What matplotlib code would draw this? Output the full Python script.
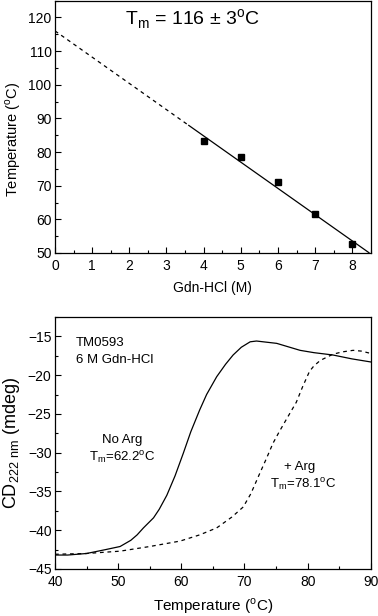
import matplotlib.pyplot as plt
import numpy as np
from matplotlib.ticker import MultipleLocator

plt.rcParams['font.family'] = ['Liberation Sans', 'DejaVu Sans']
plt.rcParams['mathtext.fontset'] = 'custom'
plt.rcParams['mathtext.rm'] = 'Liberation Sans'

# top panel: Tm vs Gdn-HCl
gdn = [4, 5, 6, 7, 8]
tm_meas = [83.3, 78.5, 71.0, 61.5, 52.8]
fit_tm0 = 116.0
fit_slope = -7.8
x_dash = [0, 3.6]
x_solid = [3.6, 8.45]

# bottom panel: CD melting curves
temp_noarg = [40, 42, 45, 48, 50.3, 52, 53, 54, 55.6, 56.5, 57.7, 59, 60.3, 61.5, 62.9, 64,
              65.6, 67, 68.2, 69.5, 70.9, 71.9, 75.1, 78.8, 81, 84, 87, 90]
cd_noarg = [-43.2, -43.2, -43.0, -42.5, -42.1, -41.3, -40.6, -39.7, -38.4, -37.3, -35.5,
            -33.0, -30.1, -27.3, -24.5, -22.5, -20.2, -18.6, -17.4, -16.4, -15.7, -15.6,
            -15.9, -16.8, -17.1, -17.4, -17.9, -18.3]
temp_arg = [40, 45, 50.3, 55, 59.8, 62.9, 65.6, 66.8, 68, 69.8, 71, 72.4, 73.5, 74.5, 75.5,
            76.7, 78.2, 79.2, 80.3, 81, 82, 84, 85.5, 87.2, 88.5, 90]
cd_arg = [-43.1, -43.0, -42.7, -42.1, -41.4, -40.6, -39.7, -39.0, -38.3, -37.0, -35.3, -32.7,
          -30.7, -28.8, -27.3, -25.6, -23.5, -21.5, -19.5, -18.8, -18.1, -17.3, -17.0, -16.8,
          -16.9, -17.2]

fig = plt.figure(figsize=(3.78, 6.16), dpi=100)

# ---- top panel
ax1 = fig.add_axes([0.1455, 0.5893, 0.8355, 0.4097])
xs = np.array(x_dash)
ax1.plot(xs, fit_tm0 + fit_slope * xs, 'k--', lw=0.9, dashes=(3, 3))
xs = np.array(x_solid)
ax1.plot(xs, fit_tm0 + fit_slope * xs, 'k-', lw=0.9)
ax1.plot(gdn, tm_meas, 'ks', ms=5)
ax1.set_xlim(0, 8.5)
ax1.set_ylim(50, 125)
ax1.xaxis.set_major_locator(MultipleLocator(1))
ax1.xaxis.set_minor_locator(MultipleLocator(0.5))
ax1.yaxis.set_major_locator(MultipleLocator(10))
ax1.yaxis.set_minor_locator(MultipleLocator(5))
ax1.set_xlabel('Gdn-HCl (M)', fontsize=10, labelpad=6)
ax1.set_ylabel(r'Temperature ($^\mathrm{o}$C)', fontsize=10.5)
ax1.yaxis.set_label_coords(-0.10, 0.45)
ax1.text(3.7, 119.5, r'T$_\mathrm{m}$ = 116 ± 3$^\mathrm{o}$C', fontsize=14,
         ha='center', va='center')

# ---- bottom panel
ax2 = fig.add_axes([0.1455, 0.0763, 0.8355, 0.4091])
ax2.plot(temp_noarg, cd_noarg, 'k-', lw=0.9)
ax2.plot(temp_arg, cd_arg, 'k--', lw=0.9, dashes=(3, 3))
ax2.set_xlim(40, 90)
ax2.set_ylim(-45, -12.5)
ax2.xaxis.set_major_locator(MultipleLocator(10))
ax2.xaxis.set_minor_locator(MultipleLocator(5))
ax2.yaxis.set_major_locator(MultipleLocator(5))
ax2.yaxis.set_minor_locator(MultipleLocator(2.5))
ax2.set_xlabel(r'Temperature ($^\mathrm{o}$C)', fontsize=11)
ax2.xaxis.set_label_coords(0.5, -0.108)
ax2.set_ylabel(r'CD$_{\mathrm{222\ nm}}$ (mdeg)', fontsize=13)
ax2.yaxis.set_label_coords(-0.105, 0.5)
ax2.text(43.3, -15.8, 'TM0593', fontsize=9.5, va='center')
ax2.text(43.3, -18.0, '6 M Gdn-HCl', fontsize=9.5, va='center')
ax2.text(50.7, -28.3, 'No Arg', fontsize=9.5, ha='center', va='center')
ax2.text(50.7, -30.7, r'T$_\mathrm{m}$=62.2$^\mathrm{o}$C', fontsize=9.5, ha='center', va='center')
ax2.text(78.8, -31.8, '+ Arg', fontsize=9.5, ha='center', va='center')
ax2.text(79.3, -34.2, r'T$_\mathrm{m}$=78.1$^\mathrm{o}$C', fontsize=9.5, ha='center', va='center')

for ax in (ax1, ax2):
    ax.tick_params(which='both', direction='in', top=False, right=False, labelsize=10)
    ax.tick_params(axis='x', pad=4)
    ax.tick_params(axis='y', pad=2.5)
    ax.tick_params(which='major', length=4, width=0.8)
    ax.tick_params(which='minor', length=2.5, width=0.8)
    for s in ax.spines.values():
        s.set_linewidth(0.9)

fig.savefig('out.png', dpi=100)
